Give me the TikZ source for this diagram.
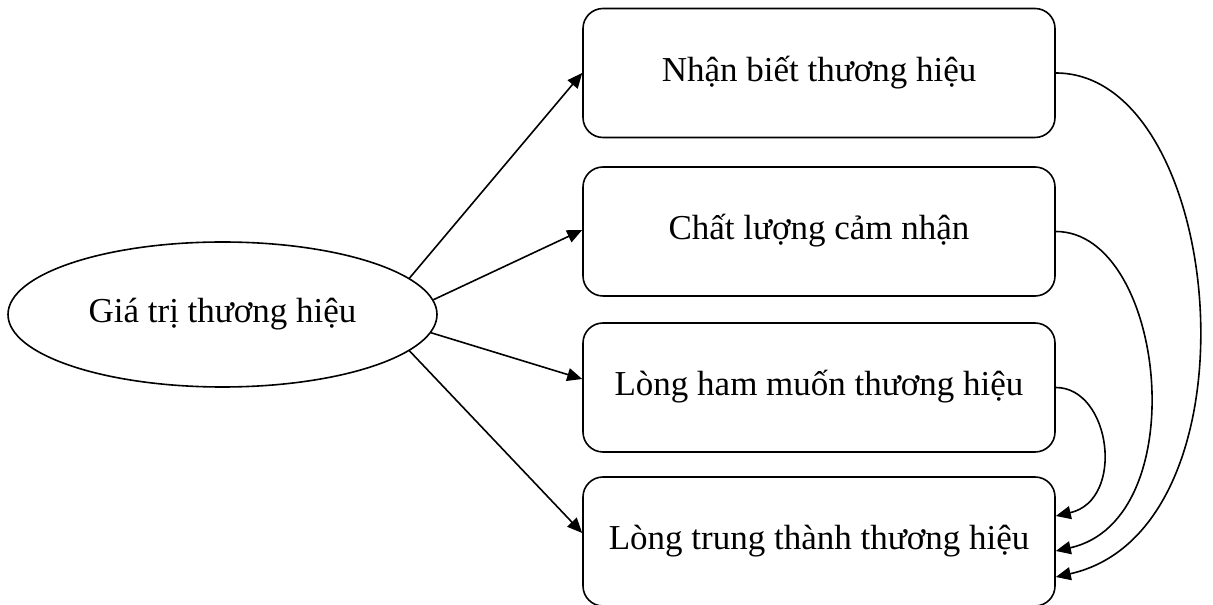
\documentclass[tikz,border=0pt]{standalone}
\usepackage{fontspec}
\setmainfont{Liberation Serif}
\usetikzlibrary{arrows.meta,shapes.geometric}
\begin{document}
\begin{tikzpicture}[x=1pt,y=1pt,
  every node/.style={font=\fontsize{35}{42}\selectfont, text height=25pt, text depth=8pt, inner sep=0pt},
  stage/.style={draw, line width=1.6pt, rounded corners=20pt, minimum width=472pt, minimum height=129pt},
  core/.style={draw, ellipse, line width=1.6pt, minimum width=429pt, minimum height=145pt},
  link/.style={line width=1.6pt, -{Triangle[length=15pt,width=13pt]}}
]
\useasboundingbox (0,0) rectangle (1213,605);

% central concept
\node[core] (equity) at (222.5,290.5) {Giá trị thương hiệu};

% components
\node[stage] (aware) at (819,532)   {Nhận biết thương hiệu};
\node[stage] (qual)  at (819,373.5) {Chất lượng cảm nhận};
\node[stage] (desire) at (819,217.5) {Lòng ham muốn thương hiệu};
\node[stage] (loyal) at (819,63.5)  {Lòng trung thành thương hiệu};

% from the central concept to each component
\draw[link] (equity.11.7) -- (aware.west);
\draw[link] (equity.4.9) -- ([yshift=1.5pt]qual.west);
\draw[link] (equity.-5.8) -- ([yshift=8.5pt]desire.west);
\draw[link] (equity.-11.1) -- ([yshift=8.5pt]loyal.west);

% feedback into loyalty
\draw[link] (aware.east) .. controls +(170,0) and +(210,47) .. ([yshift=-35.5pt]loyal.east);
\draw[link] (qual.east) .. controls +(110,0) and +(140,31) .. ([yshift=-9.5pt]loyal.east);
\draw[link] (desire.east) .. controls +(55,0) and +(70,16) .. ([yshift=25.5pt]loyal.east);
\end{tikzpicture}
\end{document}
